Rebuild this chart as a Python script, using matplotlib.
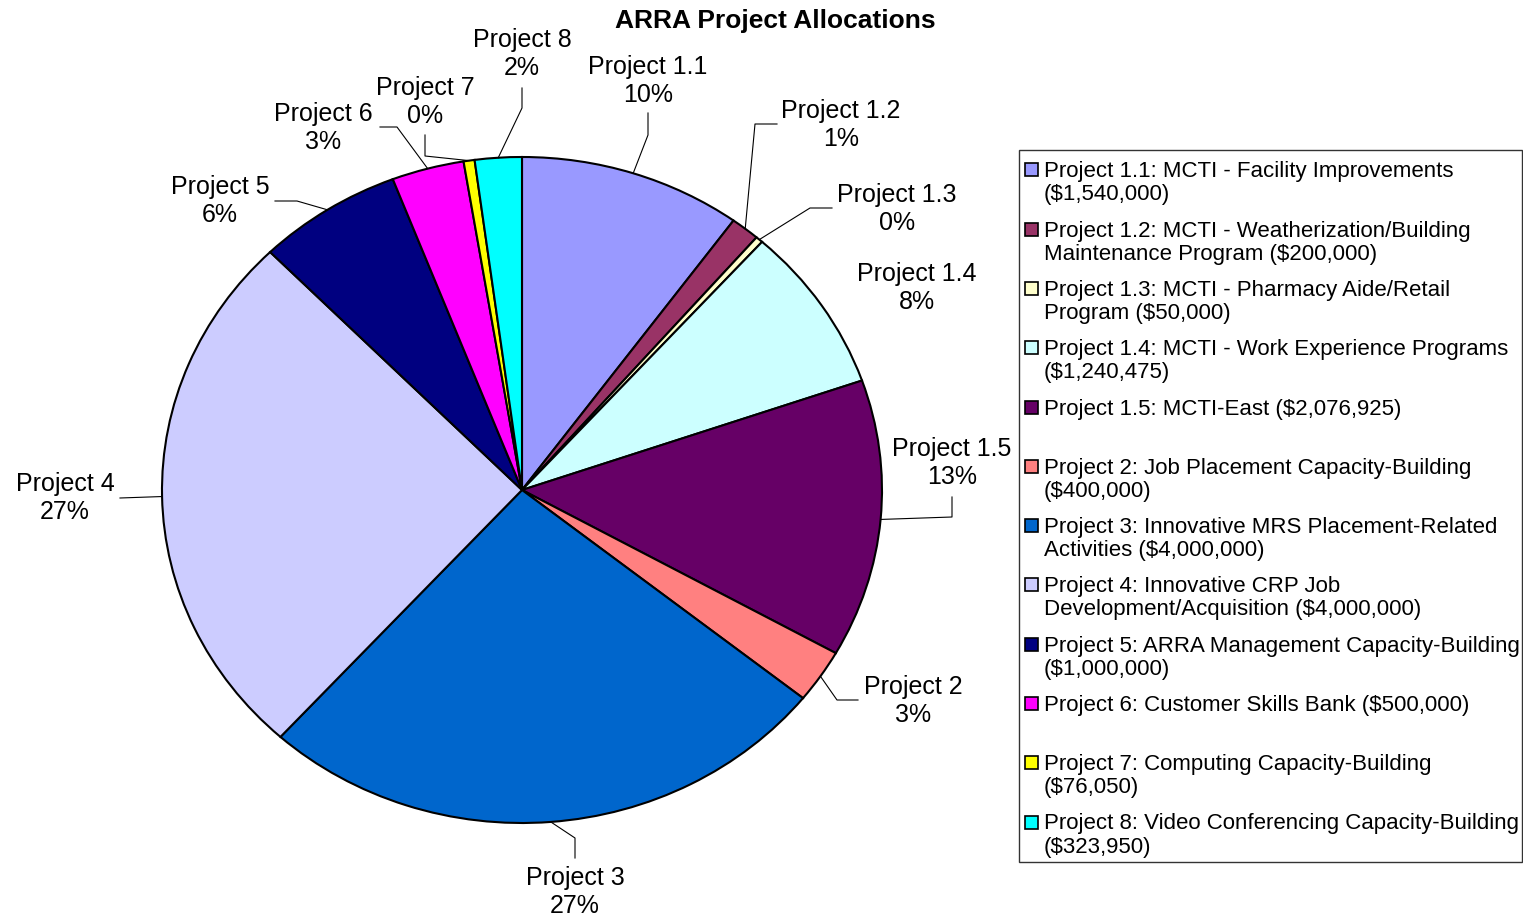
import matplotlib
matplotlib.use("Agg")
import matplotlib.pyplot as plt
import numpy as np
from matplotlib.patches import Rectangle

plt.rcParams["font.family"] = ["Liberation Sans", "DejaVu Sans"]

# data
projects = ["Project 1.1", "Project 1.2", "Project 1.3", "Project 1.4", "Project 1.5",
            "Project 2", "Project 3", "Project 4", "Project 5", "Project 6",
            "Project 7", "Project 8"]
amounts = [1540000, 200000, 50000, 1240475, 2076925, 400000, 4000000, 4000000,
           1000000, 500000, 76050, 323950]
pct_labels = ["10%", "1%", "0%", "8%", "13%", "3%", "27%", "27%", "6%", "3%", "0%", "2%"]
legend_labels = [
    "Project 1.1: MCTI - Facility Improvements\n($1,540,000)",
    "Project 1.2: MCTI - Weatherization/Building\nMaintenance Program ($200,000)",
    "Project 1.3: MCTI - Pharmacy Aide/Retail\nProgram ($50,000)",
    "Project 1.4: MCTI - Work Experience Programs\n($1,240,475)",
    "Project 1.5: MCTI-East ($2,076,925)",
    "Project 2: Job Placement Capacity-Building\n($400,000)",
    "Project 3: Innovative MRS Placement-Related\nActivities ($4,000,000)",
    "Project 4: Innovative CRP Job\nDevelopment/Acquisition ($4,000,000)",
    "Project 5: ARRA Management Capacity-Building\n($1,000,000)",
    "Project 6: Customer Skills Bank ($500,000)",
    "Project 7: Computing Capacity-Building\n($76,050)",
    "Project 8: Video Conferencing Capacity-Building\n($323,950)",
]
colors = ["#9999FF", "#993366", "#FFFFCC", "#CCFFFF", "#660066", "#FF8080",
          "#0066CC", "#CCCCFF", "#000080", "#FF00FF", "#FFFF00", "#00FFFF"]

# layout (pixel positions of the label blocks and leader-line bends)
W, H = 1523, 916
CX, CY, RX, RY = 522, 490, 360, 333
label_pos = [(648, 81), (841, 125), (897, 209), (917, 288), (952, 463), (913, 701),
             (575, 892), (65, 498), (220, 201), (323, 128), (425, 102), (522, 54)]
leader_pts = [
    [(648, 135), (648, 113)],
    [(755, 124), (777, 124)],
    [(810, 208), (832, 208)],
    [],
    [(952, 517), (952, 497)],
    [(837, 700), (858, 700)],
    [(575, 838), (575, 858)],
    [(120, 498)],
    [(297, 201), (275, 201)],
    [(397, 127), (380, 127)],
    [(425, 156), (425, 135)],
    [(522, 108), (522, 88)],
]


def to_data(px, py):
    return (px - CX) / RX, (CY - py) / RY


fig = plt.figure(figsize=(W / 100, H / 100), dpi=100)
fig.patch.set_facecolor("white")
ax = fig.add_axes([0, 0, 1, 1])

wedges, _ = ax.pie(amounts, colors=colors, startangle=90, counterclock=False,
                   radius=1, center=(0, 0),
                   wedgeprops=dict(edgecolor="black", linewidth=1.5))
ax.set_aspect("auto")
ax.set_xlim(-CX / RX, (W - CX) / RX)
ax.set_ylim(-(H - CY) / RY, CY / RY)
ax.axis("off")

# labels with leader lines
for w, name, pct, pos, pts in zip(wedges, projects, pct_labels, label_pos, leader_pts):
    lx, ly = to_data(*pos)
    ax.text(lx, ly, f"{name}\n{pct}", ha="center", va="center", fontsize=18,
            multialignment="center", linespacing=1.2)
    if pts:
        mid = np.deg2rad((w.theta1 + w.theta2) / 2)
        xs = [np.cos(mid)] + [to_data(*p)[0] for p in pts]
        ys = [np.sin(mid)] + [to_data(*p)[1] for p in pts]
        ax.plot(xs, ys, color="black", lw=0.8, clip_on=False)

ax.text(*to_data(775, 21), "ARRA Project Allocations", ha="center", va="center",
        fontsize=19, fontweight="bold")

# legend box
x0, y0 = to_data(1019, 862)
x1, y1 = to_data(1522, 150)
ax.add_patch(Rectangle((x0, y0), x1 - x0, y1 - y0, facecolor="white",
                       edgecolor="#333333", linewidth=1, clip_on=False))
step = (822 - 170) / 11
for i, (lab, col) in enumerate(zip(legend_labels, colors)):
    ty = 170 + i * step
    mx0, my0 = to_data(1025, ty + 6.5)
    mx1, my1 = to_data(1038, ty - 6.5)
    ax.add_patch(Rectangle((mx0, my0), mx1 - mx0, my1 - my0, facecolor=col,
                           edgecolor="black", linewidth=1.2, clip_on=False))
    for j, line in enumerate(lab.split("\n")):
        ax.text(*to_data(1044, ty + 2 + j * 23), line, ha="left", va="center",
                fontsize=16)

fig.savefig("out.png", dpi=100, facecolor="white")
